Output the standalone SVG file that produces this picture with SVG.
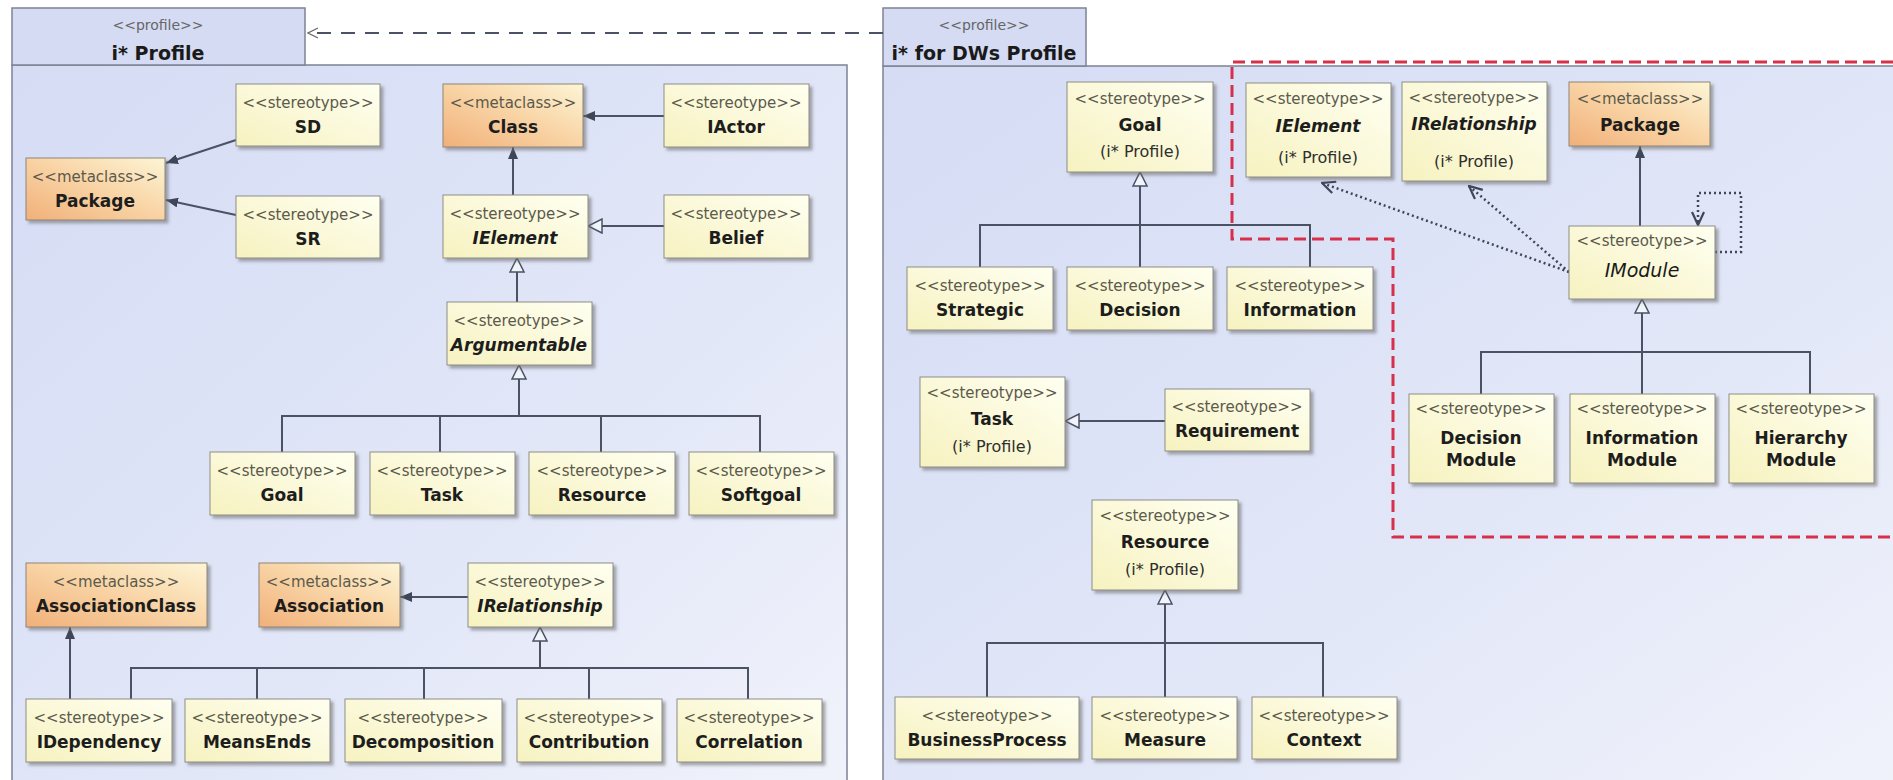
<svg xmlns="http://www.w3.org/2000/svg" width="1893" height="780" viewBox="0 0 1893 780">
<defs>
  <linearGradient id="gYel" x1="0" y1="1" x2="1" y2="0">
    <stop offset="0" stop-color="#f6f2c0"/>
    <stop offset="1" stop-color="#fffff1"/>
  </linearGradient>
  <linearGradient id="gOra" x1="0" y1="1" x2="1" y2="0">
    <stop offset="0" stop-color="#f1b079"/>
    <stop offset="0.55" stop-color="#f9d6a8"/>
    <stop offset="1" stop-color="#fdf5d6"/>
  </linearGradient>
  <linearGradient id="gPkg" x1="0" y1="0" x2="1" y2="1">
    <stop offset="0" stop-color="#d5dcf4"/>
    <stop offset="0.6" stop-color="#e2e7f8"/>
    <stop offset="1" stop-color="#f1f3fb"/>
  </linearGradient>
  <filter id="sh" x="-10%" y="-10%" width="130%" height="140%">
    <feDropShadow dx="3" dy="3" stdDeviation="1.5" flood-color="#6a6a6a" flood-opacity="0.55"/>
  </filter>
  <marker id="mFill" viewBox="0 0 12 10" refX="12" refY="5" markerWidth="12" markerHeight="10" markerUnits="userSpaceOnUse" orient="auto">
    <path d="M0,0 L12,5 L0,10 z" fill="#3e4657"/>
  </marker>
  <marker id="mHol" viewBox="-1 -1 16 16" refX="14" refY="7" markerWidth="16" markerHeight="16" markerUnits="userSpaceOnUse" orient="auto">
    <path d="M0,0 L14,7 L0,14 z" fill="#f2f4fb" stroke="#4a5263" stroke-width="1.5"/>
  </marker>
  <marker id="mOpen" viewBox="-1 -1 15 14" refX="13" refY="6" markerWidth="15" markerHeight="14" markerUnits="userSpaceOnUse" orient="auto">
    <path d="M0,0 L13,6 L0,12" fill="none" stroke="#3e4657" stroke-width="2.2"/>
  </marker>
  <marker id="mOpenS" viewBox="-1 -1 12 12" refX="10" refY="5" markerWidth="12" markerHeight="12" markerUnits="userSpaceOnUse" orient="auto">
    <path d="M0,0 L10,5 L0,10" fill="none" stroke="#666" stroke-width="1.2"/>
  </marker>
</defs>
<style>
  .pkg { fill: url(#gPkg); stroke: #7d8394; stroke-width: 1.5; }
  .tab { fill: #d4dbf3; stroke: #7d8394; stroke-width: 1.5; }
  .ster { fill: url(#gYel); stroke: #8d8d85; stroke-width: 1; filter: url(#sh); }
  .meta { fill: url(#gOra); stroke: #8d8578; stroke-width: 1; filter: url(#sh); }
  text { font-family: "DejaVu Sans", "Liberation Sans", sans-serif; text-anchor: middle; }
  .st { font-size: 15px; fill: #5b5a4c; }
  .nm { font-size: 17px; font-weight: bold; fill: #1d1d1d; }
  .it { font-style: italic; }
  .sub { font-size: 16px; fill: #2e2e2e; }
  .pst { font-size: 14px; fill: #666; }
  .ttl { font-size: 19px; font-weight: bold; fill: #1a1a1a; }
  .ln { fill: none; stroke: #4a5263; stroke-width: 2; }
  .dep { fill: none; stroke: #3e4657; stroke-width: 2.5; stroke-dasharray: 2 3; }
  .red { fill: none; stroke: #d6304a; stroke-width: 3; stroke-dasharray: 12 6; }
</style>

<!-- Packages -->
<g id="pkg-istar">
  <rect class="pkg" x="12" y="65" width="835" height="730"/>
  <rect class="tab" x="12" y="8" width="293" height="57"/>
  <text class="pst" x="158" y="30">&lt;&lt;profile&gt;&gt;</text>
  <text class="ttl" x="158" y="60">i* Profile</text>
</g>
<g id="pkg-dw">
  <rect class="pkg" x="883" y="66" width="1030" height="730"/>
  <rect class="tab" x="883" y="8" width="203" height="58"/>
  <text class="pst" x="984" y="30">&lt;&lt;profile&gt;&gt;</text>
  <text class="ttl" x="984" y="60">i* for DWs Profile</text>
</g>

<path id="module-area" class="red" d="M1893 62 H1232 V239 H1393 V537 H1893"/>

<!-- Connectors -->
<g id="connectors">
  <path class="ln" d="M883 33 H308" stroke-dasharray="14 10" stroke="#555" marker-end="url(#mOpenS)"/>
  <!-- left package -->
  <path class="ln" d="M236 140 L166 163" marker-end="url(#mFill)"/>
  <path class="ln" d="M236 215 L166 200" marker-end="url(#mFill)"/>
  <path class="ln" d="M664 116 H583" marker-end="url(#mFill)"/>
  <path class="ln" d="M513 195 V147" marker-end="url(#mFill)"/>
  <path class="ln" d="M664 226 H588" marker-end="url(#mHol)"/>
  <path class="ln" d="M517 302 V258" marker-end="url(#mHol)"/>
  <path class="ln" d="M282 452 V416 H760 V452 M440 416 V452 M601 416 V452"/>
  <path class="ln" d="M519 416 V365" marker-end="url(#mHol)"/>
  <path class="ln" d="M468 597 H400" marker-end="url(#mFill)"/>
  <path class="ln" d="M70 699 V627" marker-end="url(#mFill)"/>
  <path class="ln" d="M131 699 V668 H748 V699 M257 668 V699 M424 668 V699 M589 668 V699"/>
  <path class="ln" d="M540 668 V627" marker-end="url(#mHol)"/>
  <!-- right package -->
  <path class="ln" d="M980 267 V225 H1310 V267 M1140 225 V267"/>
  <path class="ln" d="M1140 225 V172" marker-end="url(#mHol)"/>
  <path class="ln" d="M1165 421 H1065" marker-end="url(#mHol)"/>
  <path class="ln" d="M987 697 V643 H1323 V697 M1165 643 V697"/>
  <path class="ln" d="M1165 643 V590" marker-end="url(#mHol)"/>
  <path class="ln" d="M1640 226 V146" marker-end="url(#mFill)"/>
  <path class="ln" d="M1481 394 V352 H1810 V394 M1642 352 V394"/>
  <path class="ln" d="M1642 352 V299" marker-end="url(#mHol)"/>
  <path class="dep" d="M1569 272 L1322 183" marker-end="url(#mOpen)"/>
  <path class="dep" d="M1569 272 L1469 186" marker-end="url(#mOpen)"/>
  <path class="dep" d="M1715 252 H1741 V193 H1698 V225" marker-end="url(#mOpen)"/>
</g>

<!-- Left package nodes -->
<g id="sd"><rect class="ster" x="236" y="84" width="144" height="62"/>
  <text class="st" x="308" y="108">&lt;&lt;stereotype&gt;&gt;</text><text class="nm" x="308" y="133">SD</text></g>
<g id="package-l"><rect class="meta" x="26" y="158" width="139" height="62"/>
  <text class="st" x="95" y="182">&lt;&lt;metaclass&gt;&gt;</text><text class="nm" x="95" y="207">Package</text></g>
<g id="sr"><rect class="ster" x="236" y="196" width="144" height="62"/>
  <text class="st" x="308" y="220">&lt;&lt;stereotype&gt;&gt;</text><text class="nm" x="308" y="245">SR</text></g>
<g id="class"><rect class="meta" x="443" y="84" width="140" height="63"/>
  <text class="st" x="513" y="108">&lt;&lt;metaclass&gt;&gt;</text><text class="nm" x="513" y="133">Class</text></g>
<g id="iactor"><rect class="ster" x="664" y="84" width="145" height="63"/>
  <text class="st" x="736" y="108">&lt;&lt;stereotype&gt;&gt;</text><text class="nm" x="736" y="133">IActor</text></g>
<g id="ielement"><rect class="ster" x="443" y="195" width="145" height="63"/>
  <text class="st" x="515" y="219">&lt;&lt;stereotype&gt;&gt;</text><text class="nm it" x="515" y="244">IElement</text></g>
<g id="belief"><rect class="ster" x="664" y="195" width="145" height="63"/>
  <text class="st" x="736" y="219">&lt;&lt;stereotype&gt;&gt;</text><text class="nm" x="736" y="244">Belief</text></g>
<g id="argumentable"><rect class="ster" x="447" y="302" width="145" height="63"/>
  <text class="st" x="519" y="326">&lt;&lt;stereotype&gt;&gt;</text><text class="nm it" x="519" y="351">Argumentable</text></g>
<g id="goal"><rect class="ster" x="210" y="452" width="145" height="63"/>
  <text class="st" x="282" y="476">&lt;&lt;stereotype&gt;&gt;</text><text class="nm" x="282" y="501">Goal</text></g>
<g id="task"><rect class="ster" x="370" y="452" width="145" height="63"/>
  <text class="st" x="442" y="476">&lt;&lt;stereotype&gt;&gt;</text><text class="nm" x="442" y="501">Task</text></g>
<g id="resource"><rect class="ster" x="529" y="452" width="146" height="63"/>
  <text class="st" x="602" y="476">&lt;&lt;stereotype&gt;&gt;</text><text class="nm" x="602" y="501">Resource</text></g>
<g id="softgoal"><rect class="ster" x="689" y="452" width="145" height="63"/>
  <text class="st" x="761" y="476">&lt;&lt;stereotype&gt;&gt;</text><text class="nm" x="761" y="501">Softgoal</text></g>
<g id="associationclass"><rect class="meta" x="26" y="563" width="181" height="64"/>
  <text class="st" x="116" y="587">&lt;&lt;metaclass&gt;&gt;</text><text class="nm" x="116" y="612">AssociationClass</text></g>
<g id="association"><rect class="meta" x="259" y="563" width="141" height="64"/>
  <text class="st" x="329" y="587">&lt;&lt;metaclass&gt;&gt;</text><text class="nm" x="329" y="612">Association</text></g>
<g id="irelationship"><rect class="ster" x="468" y="563" width="145" height="64"/>
  <text class="st" x="540" y="587">&lt;&lt;stereotype&gt;&gt;</text><text class="nm it" x="540" y="612">IRelationship</text></g>
<g id="idependency"><rect class="ster" x="26" y="699" width="146" height="63"/>
  <text class="st" x="99" y="723">&lt;&lt;stereotype&gt;&gt;</text><text class="nm" x="99" y="748">IDependency</text></g>
<g id="meansends"><rect class="ster" x="185" y="699" width="145" height="63"/>
  <text class="st" x="257" y="723">&lt;&lt;stereotype&gt;&gt;</text><text class="nm" x="257" y="748">MeansEnds</text></g>
<g id="decomposition"><rect class="ster" x="345" y="699" width="157" height="63"/>
  <text class="st" x="423" y="723">&lt;&lt;stereotype&gt;&gt;</text><text class="nm" x="423" y="748">Decomposition</text></g>
<g id="contribution"><rect class="ster" x="517" y="699" width="145" height="63"/>
  <text class="st" x="589" y="723">&lt;&lt;stereotype&gt;&gt;</text><text class="nm" x="589" y="748">Contribution</text></g>
<g id="correlation"><rect class="ster" x="677" y="699" width="145" height="63"/>
  <text class="st" x="749" y="723">&lt;&lt;stereotype&gt;&gt;</text><text class="nm" x="749" y="748">Correlation</text></g>

<!-- Right package nodes -->
<g id="goal-r"><rect class="ster" x="1067" y="82" width="146" height="90"/>
  <text class="st" x="1140" y="104">&lt;&lt;stereotype&gt;&gt;</text><text class="nm" x="1140" y="131">Goal</text><text class="sub" x="1140" y="157">(i* Profile)</text></g>
<g id="ielement-r"><rect class="ster" x="1246" y="83" width="145" height="94"/>
  <text class="st" x="1318" y="104">&lt;&lt;stereotype&gt;&gt;</text><text class="nm it" x="1318" y="132">IElement</text><text class="sub" x="1318" y="163">(i* Profile)</text></g>
<g id="irelationship-r"><rect class="ster" x="1402" y="82" width="145" height="99"/>
  <text class="st" x="1474" y="103">&lt;&lt;stereotype&gt;&gt;</text><text class="nm it" x="1474" y="130">IRelationship</text><text class="sub" x="1474" y="167">(i* Profile)</text></g>
<g id="package-r"><rect class="meta" x="1569" y="82" width="141" height="64"/>
  <text class="st" x="1640" y="104">&lt;&lt;metaclass&gt;&gt;</text><text class="nm" x="1640" y="131">Package</text></g>
<g id="imodule"><rect class="ster" x="1569" y="226" width="146" height="73"/>
  <text class="st" x="1642" y="246">&lt;&lt;stereotype&gt;&gt;</text><text class="it" x="1642" y="277" font-size="19" fill="#1a1a1a">IModule</text></g>
<g id="strategic"><rect class="ster" x="907" y="267" width="146" height="63"/>
  <text class="st" x="980" y="291">&lt;&lt;stereotype&gt;&gt;</text><text class="nm" x="980" y="316">Strategic</text></g>
<g id="decision"><rect class="ster" x="1067" y="267" width="146" height="63"/>
  <text class="st" x="1140" y="291">&lt;&lt;stereotype&gt;&gt;</text><text class="nm" x="1140" y="316">Decision</text></g>
<g id="information"><rect class="ster" x="1227" y="267" width="146" height="63"/>
  <text class="st" x="1300" y="291">&lt;&lt;stereotype&gt;&gt;</text><text class="nm" x="1300" y="316">Information</text></g>
<g id="task-r"><rect class="ster" x="920" y="377" width="145" height="90"/>
  <text class="st" x="992" y="398">&lt;&lt;stereotype&gt;&gt;</text><text class="nm" x="992" y="425">Task</text><text class="sub" x="992" y="452">(i* Profile)</text></g>
<g id="requirement"><rect class="ster" x="1165" y="389" width="145" height="62"/>
  <text class="st" x="1237" y="412">&lt;&lt;stereotype&gt;&gt;</text><text class="nm" x="1237" y="437">Requirement</text></g>
<g id="resource-r"><rect class="ster" x="1092" y="500" width="146" height="90"/>
  <text class="st" x="1165" y="521">&lt;&lt;stereotype&gt;&gt;</text><text class="nm" x="1165" y="548">Resource</text><text class="sub" x="1165" y="575">(i* Profile)</text></g>
<g id="businessprocess"><rect class="ster" x="895" y="697" width="184" height="62"/>
  <text class="st" x="987" y="721">&lt;&lt;stereotype&gt;&gt;</text><text class="nm" x="987" y="746">BusinessProcess</text></g>
<g id="measure"><rect class="ster" x="1092" y="697" width="145" height="62"/>
  <text class="st" x="1165" y="721">&lt;&lt;stereotype&gt;&gt;</text><text class="nm" x="1165" y="746">Measure</text></g>
<g id="context"><rect class="ster" x="1252" y="697" width="145" height="62"/>
  <text class="st" x="1324" y="721">&lt;&lt;stereotype&gt;&gt;</text><text class="nm" x="1324" y="746">Context</text></g>
<g id="decision-module"><rect class="ster" x="1409" y="394" width="145" height="89"/>
  <text class="st" x="1481" y="414">&lt;&lt;stereotype&gt;&gt;</text><text class="nm" x="1481" y="444">Decision</text><text class="nm" x="1481" y="466">Module</text></g>
<g id="information-module"><rect class="ster" x="1570" y="394" width="145" height="89"/>
  <text class="st" x="1642" y="414">&lt;&lt;stereotype&gt;&gt;</text><text class="nm" x="1642" y="444">Information</text><text class="nm" x="1642" y="466">Module</text></g>
<g id="hierarchy-module"><rect class="ster" x="1729" y="394" width="145" height="89"/>
  <text class="st" x="1801" y="414">&lt;&lt;stereotype&gt;&gt;</text><text class="nm" x="1801" y="444">Hierarchy</text><text class="nm" x="1801" y="466">Module</text></g>
</svg>
